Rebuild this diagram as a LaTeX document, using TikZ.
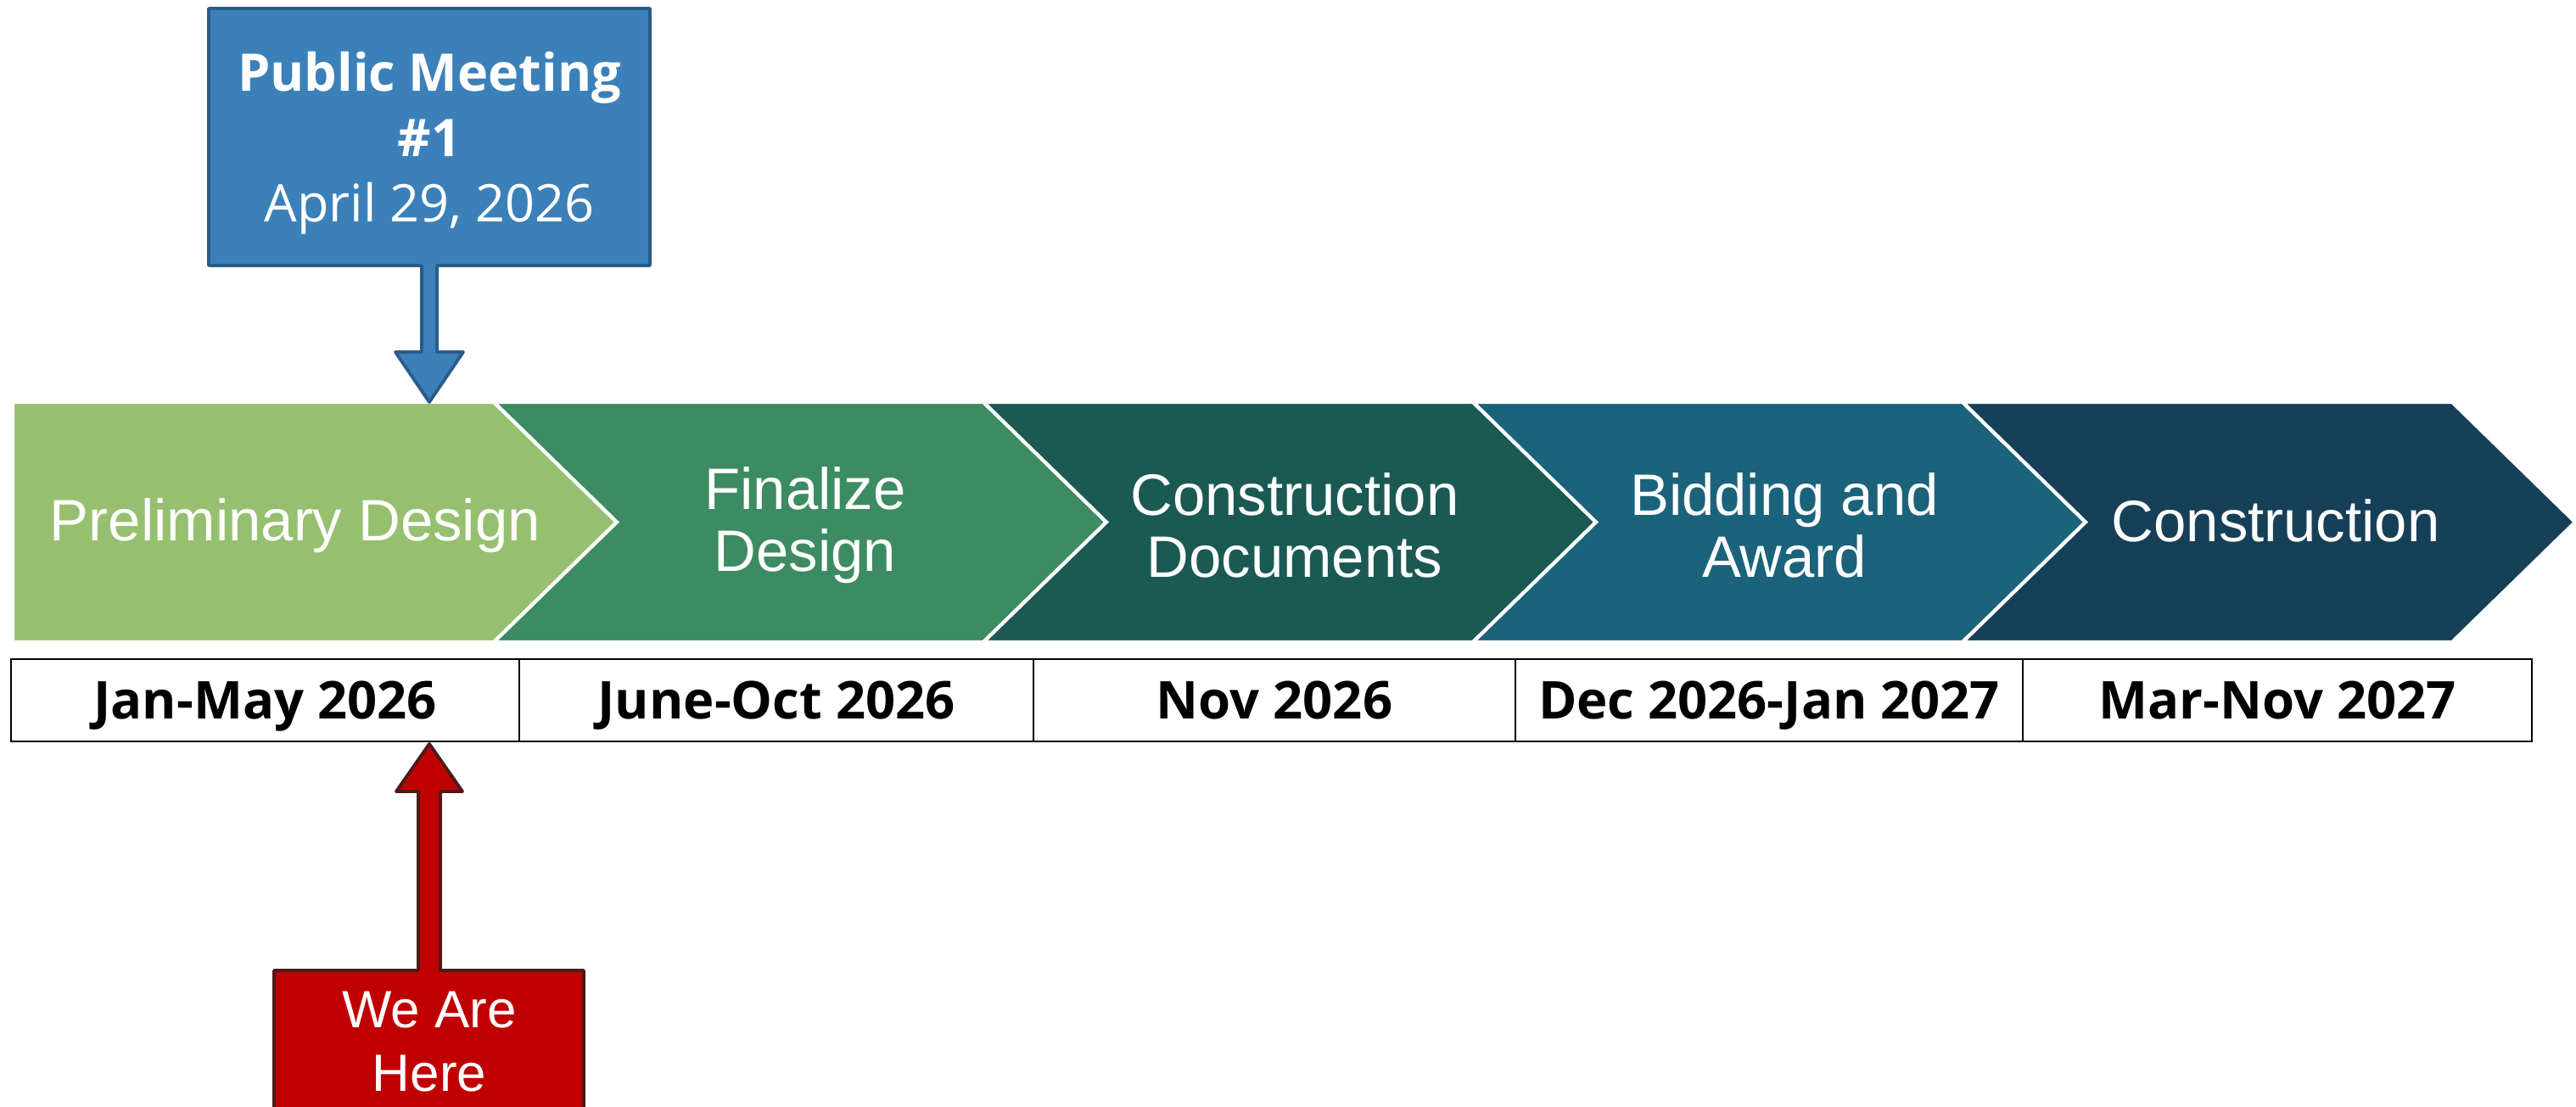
\documentclass[tikz,border=0pt]{standalone}
\usepackage{fontspec}
\setmainfont{Liberation Sans}
\newfontfamily\uifont{Open Sans}
\usetikzlibrary{positioning}
\definecolor{phaseone}{HTML}{96C070}
\definecolor{phasetwo}{HTML}{3D8B62}
\definecolor{phasethree}{HTML}{1B5953}
\definecolor{phasefour}{HTML}{1B637A}
\definecolor{phasefive}{HTML}{164058}
\definecolor{meetfill}{HTML}{3C80B9}
\definecolor{meetline}{HTML}{2A5C8A}
\definecolor{herefill}{HTML}{C00000}
\definecolor{hereline}{HTML}{501818}
\tikzset{
  chev/.style={draw=white, line width=1.2pt, line join=miter},
  chevtext/.style={text=white, align=center, inner sep=0pt,
    font=\fontsize{19.6}{20.8}\selectfont},
  datecell/.style={draw=black, line width=0.6pt, minimum height=0.97cm,
    inner sep=0pt, text height=0.45cm, text depth=0pt,
    font=\uifont\bfseries\fontsize{17.5}{21}\selectfont},
  callout/.style={line width=1.1pt, line join=round},
}

\begin{document}
\begin{tikzpicture}
    \useasboundingbox (0,0) rectangle (30.36,13.04);
    \clip (0,0) rectangle (30.36,13.04);

    % phases
    \filldraw [chev, fill=phaseone] (0.15,8.30) -- (5.82,8.30) -- (7.27,6.885) -- (5.82,5.47) -- (0.15,5.47) -- cycle;
    \filldraw [chev, fill=phasetwo] (5.82,8.30) -- (11.59,8.30) -- (13.04,6.885) -- (11.59,5.47) -- (5.82,5.47) -- (7.27,6.885) -- cycle;
    \filldraw [chev, fill=phasethree] (11.59,8.30) -- (17.36,8.30) -- (18.81,6.885) -- (17.36,5.47) -- (11.59,5.47) -- (13.04,6.885) -- cycle;
    \filldraw [chev, fill=phasefour] (17.36,8.30) -- (23.13,8.30) -- (24.58,6.885) -- (23.13,5.47) -- (17.36,5.47) -- (18.81,6.885) -- cycle;
    \filldraw [chev, fill=phasefive] (23.13,8.30) -- (28.90,8.30) -- (30.35,6.885) -- (28.90,5.47) -- (23.13,5.47) -- (24.58,6.885) -- cycle;

    \node (prelim) [chevtext] at (3.48,6.84) {Preliminary Design};
    \node (final) [chevtext] at (9.49,6.85) {Finalize\\Design};
    \node (docs) [chevtext] at (15.26,6.85) {Construction\\Documents};
    \node (bid) [chevtext] at (21.03,6.85) {Bidding and\\Award};
    \node (build) [chevtext] at (26.82,6.90) {Construction};

    % dates
    \node (jan) [datecell, minimum width=5.99cm] at (3.125,4.785) {Jan-May 2026};
    \node (june) [datecell, minimum width=6.06cm] at (9.15,4.785) {June-Oct 2026};
    \node (nov) [datecell, minimum width=5.68cm] at (15.02,4.785) {Nov 2026};
    \node (dec) [datecell, minimum width=5.98cm] at (20.85,4.785) {Dec 2026-Jan 2027};
    \node (mar) [datecell, minimum width=6.00cm] at (26.84,4.785) {Mar-Nov 2027};

    % public meeting callout
    \filldraw [callout, fill=meetfill, draw=meetline] (2.46,12.94) -- (7.66,12.94) -- (7.66,9.91) -- (5.15,9.91) -- (5.15,8.89) -- (5.46,8.89) -- (5.06,8.30) -- (4.66,8.89) -- (4.97,8.89) -- (4.97,9.91) -- (2.46,9.91) -- cycle;
    \node (meeting) [text=white, align=center, inner sep=0pt,
      font=\uifont\fontsize{17.4}{21.9}\selectfont] at (5.06,11.35)
      {\textbf{Public Meeting}\\\textbf{\#1}\\April 29, 2026};

    % we are here callout
    \filldraw [callout, fill=herefill, draw=hereline] (5.06,4.27) -- (5.45,3.71) -- (5.19,3.71) -- (5.19,1.60) -- (6.88,1.60) -- (6.88,-0.40) -- (3.23,-0.40) -- (3.23,1.60) -- (4.93,1.60) -- (4.93,3.71) -- (4.67,3.71) -- cycle;
    \node (here) [text=white, align=center, inner sep=0pt,
      font=\fontsize{17.6}{21.6}\selectfont] at (5.06,0.76) {We Are\\Here};

\end{tikzpicture}
\end{document}
